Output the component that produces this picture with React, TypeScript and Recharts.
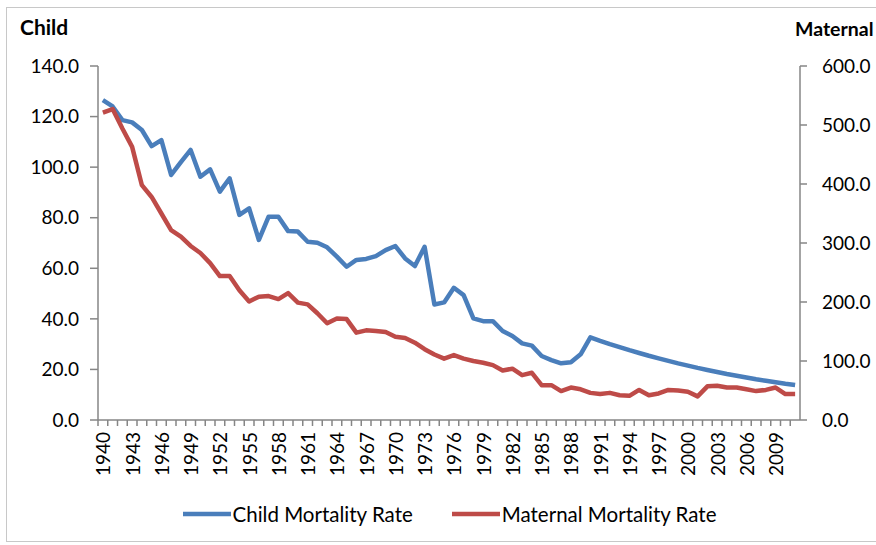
import React from 'react';
import { LineChart, Line, XAxis, YAxis, Legend } from 'recharts';

const years = Array.from({ length: 72 }, (_, i) => String(1940 + i));

const childRate = [
  126.5, 124.0, 118.6, 117.7, 114.7, 108.3, 110.7, 96.9, 102.0, 106.8,
  96.2, 99.1, 90.3, 95.6, 81.1, 83.7, 71.2, 80.4, 80.4, 74.7,
  74.5, 70.5, 70.1, 68.3, 64.6, 60.6, 63.3, 63.7, 64.8, 67.2,
  68.8, 63.9, 60.9, 68.5, 45.7, 46.5, 52.3, 49.4, 40.2, 39.1,
  39.1, 35.2, 33.2, 30.3, 29.4, 25.3, 23.7, 22.4, 22.8, 26.0,
  32.7, 31.3, 30.0, 28.8, 27.6, 26.5, 25.4, 24.4, 23.4, 22.4,
  21.5, 20.6, 19.8, 19.0, 18.2, 17.5, 16.8, 16.1, 15.5, 14.9,
  14.3, 13.8,
];

const maternalRate = [
  521, 527, 494, 463, 398, 378, 350, 322, 311, 295,
  283, 266, 244, 244, 220, 201, 209, 210, 205, 215,
  199, 196, 181, 164, 172, 171, 148, 152, 151, 149,
  141, 139, 131, 120, 111, 104, 110, 104, 100, 97,
  93, 84, 87, 76, 80, 59, 59, 49, 55, 52,
  46, 44, 46, 42, 41, 51, 42, 45, 51, 50,
  48, 40, 57, 58, 55, 55, 52, 49, 51, 55,
  44, 44,
];

const childTicks = [0, 20, 40, 60, 80, 100, 120, 140];
const maternalTicks = [0, 100, 200, 300, 400, 500, 600];

const data = years.map((year, i) => ({
  year,
  child: childRate[i],
  maternal: maternalRate[i],
}));

const FONT = 'Lato, "Open Sans", sans-serif';
const AXIS = '#868686';
const BLUE = '#4A7EBB';
const RED = '#BE4B48';

// one tick per year on the band edge, a label on every third year
const YearTick = (props: any) => {
  const { x, y, payload, index } = props;
  const off = payload && payload.offset ? payload.offset : 0;
  return (
    <g>
      <line x1={x - off} x2={x - off} y1={y - 12} y2={y - 6} stroke={AXIS} strokeWidth={1.5} />
      {index % 3 === 0 && (
        <text
          x={x}
          y={y}
          dy="0.4em"
          transform={`rotate(-90, ${x}, ${y})`}
          textAnchor="end"
          fontSize={19}
          fontFamily={FONT}
          fill="#000"
        >
          {payload.value}
        </text>
      )}
    </g>
  );
};

const LegendContent = () => (
  <div
    style={{
      display: 'flex',
      justifyContent: 'center',
      alignItems: 'center',
      paddingLeft: 22,
      paddingTop: 2,
      fontFamily: FONT,
      fontSize: 20.5,
      color: '#000',
    }}
  >
    {[
      { name: 'Child Mortality Rate', color: BLUE },
      { name: 'Maternal Mortality Rate', color: RED },
    ].map((item, i) => (
      <div key={item.name} style={{ display: 'flex', alignItems: 'center', marginLeft: i ? 38 : 0 }}>
        <svg width={50} height={6} style={{ marginRight: 1 }}>
          <line x1={1} x2={49} y1={3} y2={3} stroke={item.color} strokeWidth={4.5} />
        </svg>
        <span>{item.name}</span>
      </div>
    ))}
  </div>
);

export default function App() {
  return (
    <div
      style={{
        position: 'absolute',
        left: 0,
        top: 0,
        width: 876,
        height: 545,
        overflow: 'hidden',
        background: '#fff',
        fontFamily: FONT,
      }}
    >
      <div
        style={{
          position: 'absolute',
          left: 6,
          top: 7,
          width: 900,
          height: 533,
          border: '1px solid #c8c8c8',
        }}
      />
      <div style={{ position: 'absolute', left: 20, top: 14, fontSize: 21, fontWeight: 700 }}>Child</div>
      <div style={{ position: 'absolute', left: 795, top: 17, fontSize: 19.5, fontWeight: 700, whiteSpace: 'nowrap' }}>
        Maternal
      </div>
      <LineChart width={876} height={545} data={data} margin={{ top: 66, right: 0, bottom: 0, left: 0 }}>
        <XAxis
          dataKey="year"
          scale="band"
          interval={0}
          tick={<YearTick />}
          tickLine={false}
          tickSize={6}
          tickMargin={6}
          height={80}
          axisLine={{ stroke: AXIS, strokeWidth: 1.5 }}
        />
        <YAxis
          yAxisId="left"
          orientation="left"
          width={98}
          domain={[0, 140]}
          ticks={childTicks}
          tickFormatter={(v) => v.toFixed(1)}
          tick={{ fontSize: 19, fill: '#000', fontFamily: FONT, dx: -9 }}
          tickSize={8}
          axisLine={{ stroke: AXIS, strokeWidth: 1.5 }}
          tickLine={{ stroke: AXIS, strokeWidth: 1.5 }}
        />
        <YAxis
          yAxisId="right"
          orientation="right"
          width={76}
          domain={[0, 600]}
          ticks={maternalTicks}
          tickFormatter={(v) => v.toFixed(1)}
          tick={{ fontSize: 19, fill: '#000', fontFamily: FONT, dx: 13 }}
          tickSize={7}
          axisLine={{ stroke: AXIS, strokeWidth: 1.5 }}
          tickLine={{ stroke: AXIS, strokeWidth: 1.5 }}
        />
        <Legend
          verticalAlign="bottom"
          height={45}
          wrapperStyle={{ height: 45 }}
          content={<LegendContent />}
        />
        <Line
          yAxisId="left"
          type="linear"
          dataKey="child"
          name="Child Mortality Rate"
          stroke={BLUE}
          strokeWidth={4.5}
          dot={false}
          strokeLinejoin="round"
          isAnimationActive={false}
        />
        <Line
          yAxisId="right"
          type="linear"
          dataKey="maternal"
          name="Maternal Mortality Rate"
          stroke={RED}
          strokeWidth={4.5}
          dot={false}
          strokeLinejoin="round"
          isAnimationActive={false}
        />
      </LineChart>
    </div>
  );
}
